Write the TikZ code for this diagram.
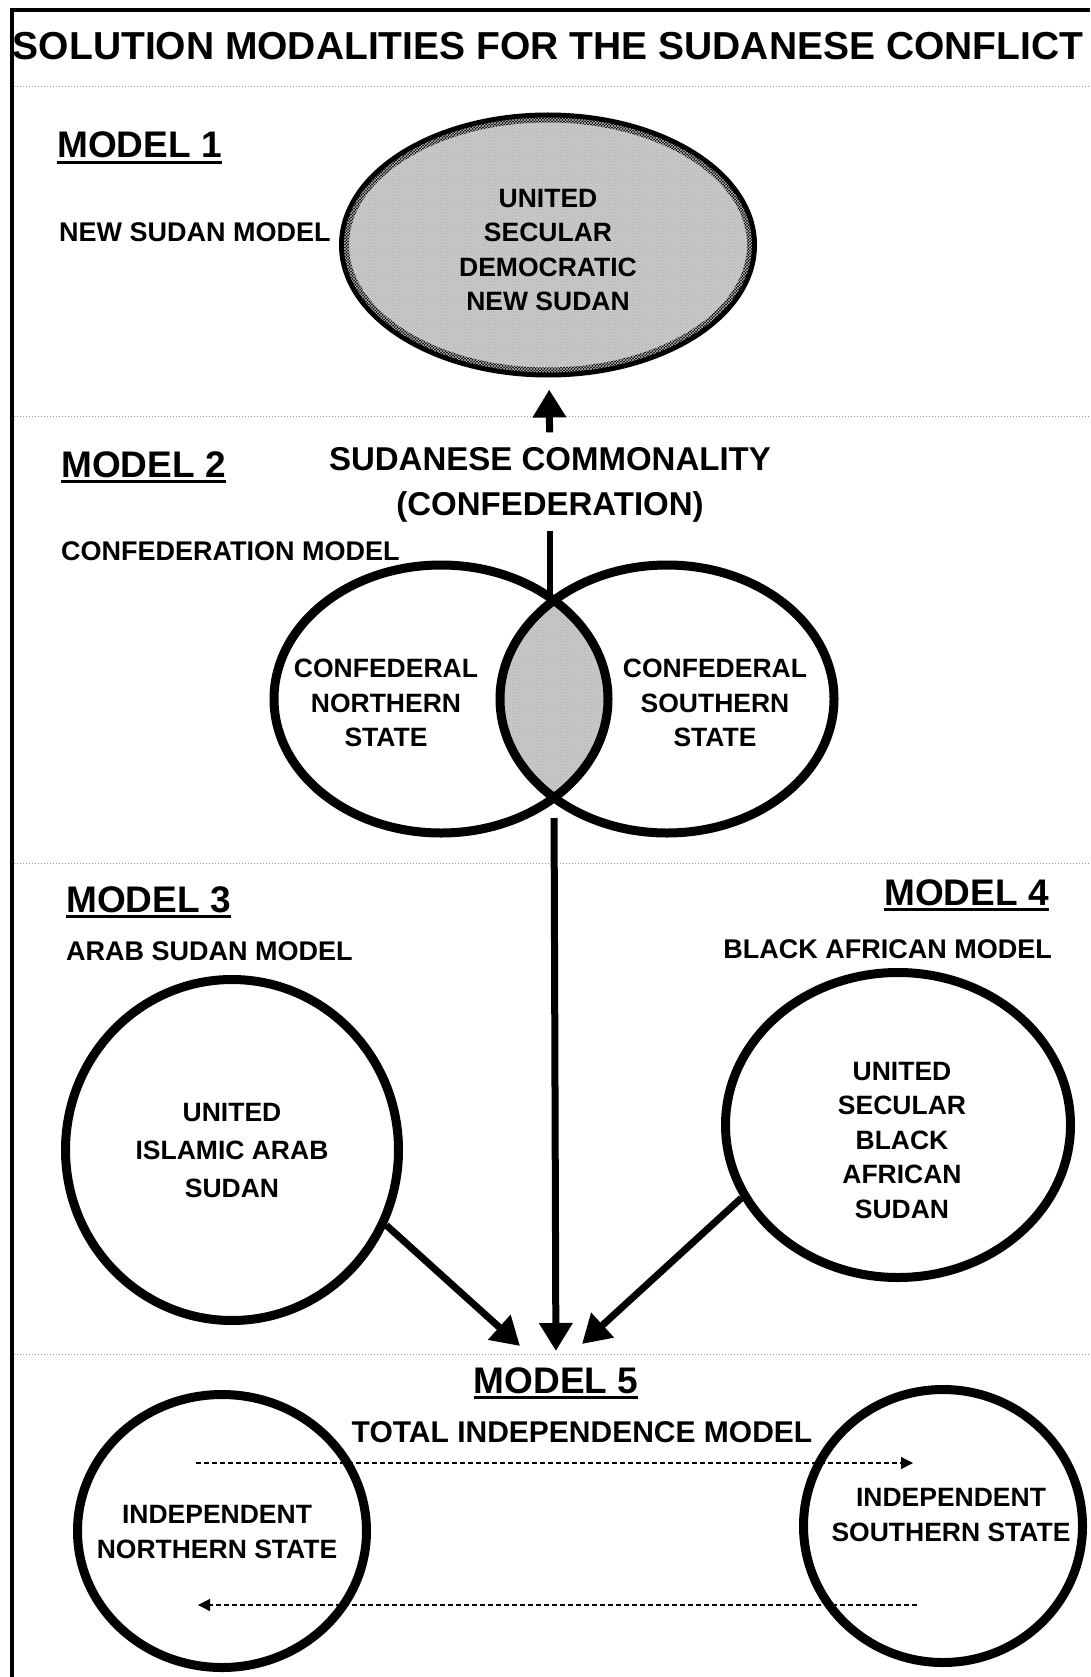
\documentclass[tikz,border=0pt]{standalone}
\usepackage{fontspec}
\setmainfont{Liberation Sans}
\usetikzlibrary{calc}
\usetikzlibrary{shapes.geometric}
\usetikzlibrary{arrows.meta}
\usetikzlibrary{patterns}

\begin{document}
\begin{tikzpicture}[x=1pt,y=-1pt,inner sep=0pt,
  bigell/.style={draw,ellipse,line width=9pt},
  intext/.style={align=center,font=\fontsize{26.5}{34.5}\selectfont\bfseries},
  lbl/.style={font=\fontsize{27}{32}\selectfont\bfseries},
  headlbl/.style={font=\fontsize{37}{40}\selectfont\bfseries},
  sepline/.style={gray!80,dotted,line width=1pt},
  fatarrow/.style={line width=7pt,-{Triangle[length=28pt,width=32pt]}},
  dasharrow/.style={line width=1.3pt,dash pattern=on 5pt off 3pt,-{Triangle[length=12pt,width=12pt]}},
  greyfill/.style={fill=gray!35,postaction={pattern=crosshatch,pattern color=gray!55}}]
\useasboundingbox (0,0) rectangle (1090,1677);
\fill[white] (0,0) rectangle (1090,1677);
\draw[line width=4.5pt] (12,1677) -- (12,10) -- (1090,10);

\node[font=\fontsize{39}{44}\selectfont\bfseries,anchor=base] (title) at (548,60) {SOLUTION MODALITIES FOR THE SUDANESE CONFLICT};
\foreach \y in {87,416,863,1354} \draw[sepline] (14,\y) -- (1090,\y);

\node[headlbl,anchor=base west] (m1) at (57,158) {MODEL 1};
\node[lbl,anchor=base west] (m1name) at (59,242) {NEW SUDAN MODEL};
\node[bigell,greyfill,line width=10pt,minimum width=408pt,minimum height=255pt] (newsudan) at (548,245) {};
\node[intext] at ($(newsudan)+(0,5)$) {UNITED\\SECULAR\\DEMOCRATIC\\NEW SUDAN};

\node[headlbl,anchor=base west] (m2) at (61,477) {MODEL 2};
\node[font=\fontsize{33}{45}\selectfont\bfseries,align=center] (common) at (550,485) {SUDANESE COMMONALITY\\(CONFEDERATION)};
\node[lbl,anchor=base west] (m2name) at (61,560) {CONFEDERATION MODEL};

\begin{scope}
\clip (441,699) ellipse (167 and 134);
\fill[greyfill] (667,699) ellipse (167 and 134);
\end{scope}
\node[bigell,minimum width=334pt,minimum height=268pt] (north) at (441,699) {};
\node[bigell,minimum width=334pt,minimum height=268pt] (south) at (667,699) {};
\node[intext] at ($(north)+(-55,4)$) {CONFEDERAL\\NORTHERN\\STATE};
\node[intext] at ($(south)+(48,4)$) {CONFEDERAL\\SOUTHERN\\STATE};
\coordinate (lenstop) at (550,600);
\coordinate (lensbot) at (554,798);

\node[headlbl,anchor=base west] (m3) at (66,912) {MODEL 3};
\node[lbl,anchor=base west] (m3name) at (66,960) {ARAB SUDAN MODEL};
\node[bigell,minimum width=333pt,minimum height=341pt,align=center,font=\fontsize{26.5}{38}\selectfont\bfseries] (arab) at (232,1150) {UNITED\\ISLAMIC ARAB\\SUDAN};

\node[headlbl,anchor=base east] (m4) at (1049,905) {MODEL 4};
\node[lbl,anchor=base east] (m4name) at (1052,958) {BLACK AFRICAN MODEL};
\node[bigell,minimum width=345pt,minimum height=305pt] (black) at (898,1125) {};
\node[intext] at ($(black)+(4,15)$) {UNITED\\SECULAR\\BLACK\\AFRICAN\\SUDAN};

\node[headlbl,anchor=base] (m5) at (556,1393) {MODEL 5};
\node[font=\fontsize{30}{34}\selectfont\bfseries,anchor=base] (m5name) at (582,1442) {TOTAL INDEPENDENCE MODEL};
\node[bigell,minimum width=289pt,minimum height=273pt] (indn) at (222,1531) {};
\node[intext] at ($(indn)+(-5,1)$) {INDEPENDENT\\NORTHERN STATE};
\node[bigell,minimum width=279pt,minimum height=273pt] (inds) at (943,1526) {};
\node[intext] at ($(inds)+(8,-11)$) {INDEPENDENT\\SOUTHERN STATE};

\foreach \m in {m1,m2,m3,m4,m5}
  \draw[line width=2.5pt] ([yshift=-4.5pt]\m.base west) -- ([yshift=-4.5pt]\m.base east);

\draw[fatarrow,shorten <=15pt,shorten >=12pt] (common) -- (newsudan);
\draw[line width=6pt,shorten <=8pt] (common) -- (lenstop);
\draw[fatarrow,shorten <=20pt,shorten >=16pt] (lensbot) -- (m5);
\draw[fatarrow] (arab.-26) -- ($(m5.north)+(-36,-21)$);
\draw[fatarrow] (black.205) -- ($(m5.north)+(26,-23)$);

\draw[dasharrow] ($(indn)+(-26,-68)$) -- ($(inds)+(-30,-63)$);
\draw[dasharrow] ($(inds)+(-26,79)$) -- ($(indn)+(-24,74)$);
\end{tikzpicture}
\end{document}
